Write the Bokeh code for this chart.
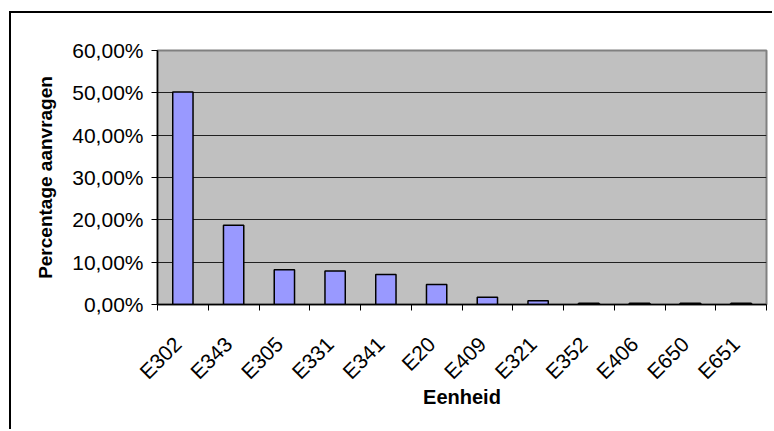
from bokeh.plotting import figure
from bokeh.models import FixedTicker, Range1d
from bokeh.embed import file_html
from bokeh.resources import INLINE
import math

# Share of requests per unit (percent)
units = ["E302", "E343", "E305", "E331", "E341", "E20",
         "E409", "E321", "E352", "E406", "E650", "E651"]
shares = [50.2, 18.7, 8.2, 7.9, 7.1, 4.7, 1.7, 0.9, 0.3, 0.3, 0.3, 0.3]
y_ticks = [0, 10, 20, 30, 40, 50, 60]
y_tick_labels = ["0,00%", "10,00%", "20,00%", "30,00%", "40,00%", "50,00%", "60,00%"]

FONT = "Liberation Sans"

n = len(units)
centers = [i + 0.5 for i in range(n)]
# rotated labels hang slightly left of each bar's centre
label_pos = [i + 0.4 for i in range(n)]

p = figure(
    width=763, height=418,
    x_range=Range1d(0, n), y_range=Range1d(0, 60),
    output_backend="svg", toolbar_location=None,
    min_border_left=146, min_border_right=8,
    min_border_top=37, min_border_bottom=127,
    background_fill_color="#C0C0C0",
    border_fill_color="white",
    margin=(11, 0, 0, 9),
    styles={"border-left": "2px solid black", "border-top": "2px solid black"},
)

p.outline_line_color = "#808080"
p.outline_line_width = 2

# horizontal gridlines only
p.xgrid.grid_line_color = None
p.ygrid.grid_line_color = "#202020"
p.ygrid.grid_line_width = 1
p.ygrid.ticker = FixedTicker(ticks=y_ticks)

p.vbar(x=centers, top=shares, width=0.4, bottom=0,
       fill_color="#9999FF", line_color="black", line_width=1.5)

# y axis
ya = p.yaxis[0]
ya.ticker = FixedTicker(ticks=y_ticks)
ya.major_label_overrides = {t: l for t, l in zip(y_ticks, y_tick_labels)}
ya.axis_label = "Percentage aanvragen"
ya.axis_label_text_font = FONT
ya.axis_label_text_font_style = "bold"
ya.axis_label_text_font_size = "19px"
ya.axis_label_text_color = "black"
ya.axis_label_standoff = 13
ya.major_label_text_font = FONT
ya.major_label_text_font_size = "21px"
ya.major_label_text_color = "black"
ya.major_label_standoff = 8
ya.major_tick_out = 6
ya.major_tick_in = 0
ya.minor_tick_line_color = None
ya.axis_line_color = "black"
ya.axis_line_width = 1.5
ya.major_tick_line_width = 1

# x axis: labels hang below the bars, tick marks at category boundaries
xa = p.xaxis[0]
xa.ticker = FixedTicker(ticks=label_pos, minor_ticks=list(range(n + 1)))
xa.major_label_overrides = {c: u for c, u in zip(label_pos, units)}
xa.major_label_orientation = math.pi / 4
xa.major_label_text_font = FONT
xa.major_label_text_font_size = "21px"
xa.major_label_text_color = "black"
xa.major_label_standoff = 30
xa.major_tick_line_color = None
xa.major_tick_out = 0
xa.major_tick_in = 0
xa.minor_tick_out = 6
xa.minor_tick_in = 0
xa.minor_tick_line_color = "black"
xa.axis_line_color = "black"
xa.axis_line_width = 1.5
xa.axis_label = "Eenheid"
xa.axis_label_text_font = FONT
xa.axis_label_text_font_style = "bold"
xa.axis_label_text_font_size = "20px"
xa.axis_label_text_color = "black"
xa.axis_label_standoff = -8

open("out.html", "w").write(file_html(p, INLINE))
